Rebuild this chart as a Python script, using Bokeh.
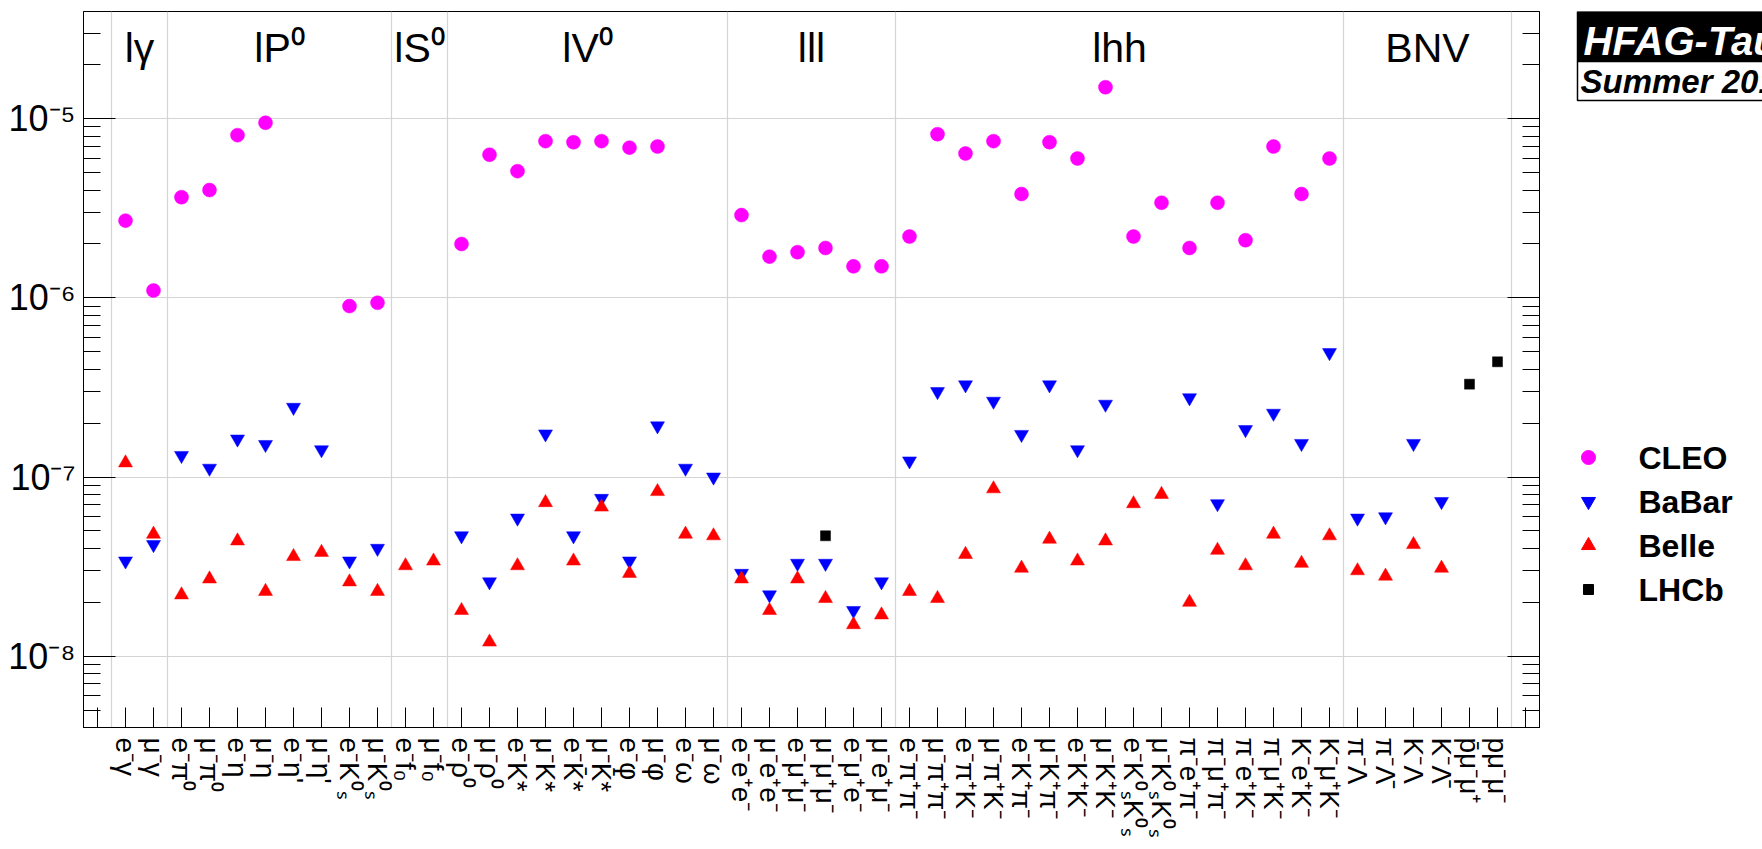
import math
from bokeh.plotting import figure
from bokeh.layouts import row
from bokeh.models import ColumnDataSource, FixedTicker, LogAxis, Range1d
from bokeh.core.properties import value
from bokeh.embed import file_html
from bokeh.resources import INLINE

NaN = float("nan")

# ---------------- data ----------------
group_names = ["lγ", "lP⁰", "lS⁰", "lV⁰", "lll", "lhh", "BNV"]
group_sizes = [2, 8, 2, 10, 6, 16, 6]

modes = [
    "e⁻γ", "μ⁻γ",
    "e⁻π⁰", "μ⁻π⁰", "e⁻η", "μ⁻η", "e⁻η'", "μ⁻η'", "e⁻K⁰ₛ", "μ⁻K⁰ₛ",
    "e⁻f₀", "μ⁻f₀",
    "e⁻ρ⁰", "μ⁻ρ⁰", "e⁻K*", "μ⁻K*", "e⁻K̄*", "μ⁻K̄*", "e⁻φ", "μ⁻φ", "e⁻ω", "μ⁻ω",
    "e⁻e⁺e⁻", "μ⁻e⁺e⁻", "e⁻μ⁺μ⁻", "μ⁻μ⁺μ⁻", "e⁻μ⁺e⁻", "μ⁻e⁺μ⁻",
    "e⁻π⁺π⁻", "μ⁻π⁺π⁻", "e⁻π⁺K⁻", "μ⁻π⁺K⁻", "e⁻K⁺π⁻", "μ⁻K⁺π⁻", "e⁻K⁺K⁻", "μ⁻K⁺K⁻",
    "e⁻K⁰ₛK⁰ₛ", "μ⁻K⁰ₛK⁰ₛ", "π⁻e⁺π⁻", "π⁻μ⁺π⁻", "π⁻e⁺K⁻", "π⁻μ⁺K⁻", "K⁻e⁺K⁻", "K⁻μ⁺K⁻",
    "π⁻Λ", "π⁻Λ̄", "K⁻Λ", "K⁻Λ̄", "p̄μ⁻μ⁺", "pμ⁻μ⁻",
]

cleo = [
    2.7e-6, 1.1e-6,
    3.65e-6, 4.0e-6, 8.1e-6, 9.5e-6, NaN, NaN, 9.0e-7, 9.4e-7,
    NaN, NaN,
    2.0e-6, 6.3e-6, 5.1e-6, 7.5e-6, 7.4e-6, 7.5e-6, 6.9e-6, 7.0e-6, NaN, NaN,
    2.9e-6, 1.7e-6, 1.8e-6, 1.9e-6, 1.5e-6, 1.5e-6,
    2.2e-6, 8.2e-6, 6.4e-6, 7.5e-6, 3.8e-6, 7.4e-6, 6.0e-6, 1.5e-5,
    2.2e-6, 3.4e-6, 1.9e-6, 3.4e-6, 2.1e-6, 7.0e-6, 3.8e-6, 6.0e-6,
    NaN, NaN, NaN, NaN, NaN, NaN,
]

babar = [
    3.4e-8, 4.2e-8,
    1.32e-7, 1.12e-7, 1.63e-7, 1.52e-7, 2.45e-7, 1.42e-7, 3.4e-8, 4.0e-8,
    NaN, NaN,
    4.7e-8, 2.6e-8, 5.9e-8, 1.74e-7, 4.7e-8, 7.6e-8, 3.4e-8, 1.93e-7, 1.12e-7, 1.0e-7,
    2.9e-8, 2.2e-8, 3.3e-8, 3.3e-8, 1.8e-8, 2.6e-8,
    1.23e-7, 3.0e-7, 3.27e-7, 2.65e-7, 1.73e-7, 3.27e-7, 1.42e-7, 2.55e-7,
    NaN, NaN, 2.77e-7, 7.1e-8, 1.84e-7, 2.27e-7, 1.54e-7, 4.95e-7,
    5.9e-8, 6.0e-8, 1.54e-7, 7.3e-8, NaN, NaN,
]

belle = [
    1.2e-7, 4.8e-8,
    2.2e-8, 2.7e-8, 4.4e-8, 2.3e-8, 3.6e-8, 3.8e-8, 2.6e-8, 2.3e-8,
    3.2e-8, 3.4e-8,
    1.8e-8, 1.2e-8, 3.2e-8, 7.2e-8, 3.4e-8, 6.8e-8, 2.9e-8, 8.3e-8, 4.8e-8, 4.7e-8,
    2.7e-8, 1.8e-8, 2.7e-8, 2.1e-8, 1.5e-8, 1.7e-8,
    2.3e-8, 2.1e-8, 3.7e-8, 8.6e-8, 3.1e-8, 4.5e-8, 3.4e-8, 4.4e-8,
    7.1e-8, 8.0e-8, 2.0e-8, 3.9e-8, 3.2e-8, 4.8e-8, 3.3e-8, 4.7e-8,
    3.0e-8, 2.8e-8, 4.2e-8, 3.1e-8, NaN, NaN,
]

lhcb = [NaN] * 50
lhcb[25] = 4.7e-8
lhcb[48] = 3.3e-7
lhcb[49] = 4.4e-7

y_tick_values = [1e-8, 1e-7, 1e-6, 1e-5]
y_tick_labels = ["10⁻⁸", "10⁻⁷", "10⁻⁶", "10⁻⁵"]
y_lo, y_hi = 4.0e-9, 3.97e-5

series_names = ["CLEO", "BaBar", "Belle", "LHCb"]
series_markers = ["circle", "inverted_triangle", "triangle", "square"]
series_colors = ["#ff00ff", "#0000ff", "#ff0000", "#000000"]
series_sizes = [14, 14, 14, 10]
series_values = [cleo, babar, belle, lhcb]

# ---------------- main figure ----------------
n = len(modes)
FONT = "Liberation Sans"
FRAME_W, FRAME_H = 1456, 716
B_LEFT, B_TOP, B_BOTTOM, B_RIGHT = 83, 11, 112, 8
DECADE_PX = 179.2

p = figure(frame_width=FRAME_W, frame_height=FRAME_H, title=None,
           x_range=Range1d(-0.5, n + 1.5), y_range=Range1d(y_lo, y_hi),
           y_axis_type="log", output_backend="svg", toolbar_location=None,
           min_border_left=B_LEFT, min_border_top=B_TOP, min_border_bottom=B_BOTTOM,
           min_border_right=B_RIGHT, background_fill_color="white",
           border_fill_color="white", align="start")
p.outline_line_color = "black"
p.outline_line_width = 1

# x axis
xt = list(range(0, n + 2))
xaxis = p.xaxis[0]
xaxis.ticker = FixedTicker(ticks=xt, minor_ticks=[])
overrides = {0: "", n + 1: ""}
for i, m in enumerate(modes):
    overrides[i + 1] = m
xaxis.major_label_overrides = overrides
xaxis.major_label_orientation = "vertical"
xaxis.major_label_text_font = FONT
xaxis.major_label_text_font_size = "28px"
xaxis.major_label_text_color = "black"
xaxis.major_label_standoff = 10
xaxis.major_tick_in = 20
xaxis.major_tick_out = 0
xaxis.axis_line_color = "black"
xaxis.major_tick_line_color = "black"

# separators between categories
bounds = [0.5]
cum = 0
centers = []
for s in group_sizes:
    centers.append(cum + (s + 1) / 2)
    cum += s
    bounds.append(cum + 0.5)
p.xgrid.ticker = FixedTicker(ticks=bounds, minor_ticks=[])
p.xgrid.grid_line_color = "#d4d4d4"
p.xgrid.grid_line_width = 1.2

# y axis
minors = []
for e in range(-9, -4):
    for mnt in range(2, 10):
        v = mnt * 10.0 ** e
        if y_lo <= v <= y_hi:
            minors.append(v)
yticker = FixedTicker(ticks=y_tick_values, minor_ticks=minors)
yaxis = p.yaxis[0]
yaxis.ticker = yticker
yaxis.major_label_overrides = dict(zip(y_tick_values, y_tick_labels))
yaxis.major_label_text_font = FONT
yaxis.major_label_text_font_size = "36px"
yaxis.major_label_text_color = "black"
yaxis.major_label_standoff = 8
yaxis.major_tick_in = 32
yaxis.major_tick_out = 0
yaxis.minor_tick_in = 17
yaxis.minor_tick_out = 0
yaxis.axis_line_color = "black"
p.ygrid.ticker = yticker
p.ygrid.grid_line_color = "#d4d4d4"
p.ygrid.grid_line_width = 1.2

ry = LogAxis(ticker=yticker, major_label_overrides={v: "" for v in y_tick_values},
             major_label_text_font_size="0px", major_label_standoff=0,
             major_tick_in=32, major_tick_out=0, minor_tick_in=17, minor_tick_out=0,
             axis_line_color="black")
p.add_layout(ry, "right")

# data markers
for name, mk, col, sz, vals in zip(series_names, series_markers, series_colors,
                                    series_sizes, series_values):
    xs = [i + 1 for i, v in enumerate(vals) if not math.isnan(v)]
    ys = [v for v in vals if not math.isnan(v)]
    src = ColumnDataSource(dict(x=xs, y=ys))
    p.scatter("x", "y", source=src, marker=mk, size=sz, fill_color=col,
              line_color=col, line_width=0.5)

# group titles (centre of the capitals ~37 px below the frame top)
title_y = y_hi / 10 ** (37.0 / DECADE_PX)
p.text(x=centers, y=[title_y] * len(centers), text=group_names,
       text_align="center", text_baseline="middle",
       text_font=value(FONT), text_font_size="41px", text_color="black")

# ---------------- side panel: legend + tag ----------------
X0 = B_LEFT + FRAME_W + B_RIGHT          # page x where the side panel starts
W2, H2 = 1762 - X0, 859
DY = 10                                   # vertical correction of the side panel
q = figure(frame_width=W2, frame_height=H2, title=None,
           x_range=Range1d(X0, X0 + W2), y_range=Range1d(H2 + DY, DY),
           output_backend="svg", toolbar_location=None, min_border=0,
           x_axis_location=None, y_axis_location=None, align="start")
q.grid.visible = False
q.outline_line_color = None

leg_y = [456 + 44 * k for k in range(len(series_names))]
for k, (name, mk, col, sz) in enumerate(zip(series_names, series_markers,
                                            series_colors, series_sizes)):
    q.scatter([1588], [leg_y[k]], marker=mk, size=sz, fill_color=col, line_color=col)
q.text(x=[1638] * 4, y=leg_y, text=series_names, text_align="left",
       text_baseline="middle", text_font=value(FONT), text_font_size="32px",
       text_font_style="bold", text_color="black")

q.quad(left=[1577], right=[1800], top=[10], bottom=[60],
       fill_color="black", line_color="black", line_width=1.5)
q.quad(left=[1577], right=[1800], top=[60], bottom=[99],
       fill_color="white", line_color="black", line_width=1.5)
q.text(x=[1583], y=[39], text=["HFAG-Tau"], text_align="left",
       text_baseline="middle", text_font=value(FONT), text_font_size="40px",
       text_font_style="bold italic", text_color="white")
q.text(x=[1580], y=[80], text=["Summer 2014"], text_align="left",
       text_baseline="middle", text_font=value(FONT), text_font_size="33px",
       text_font_style="bold italic", text_color="black")

layout = row(p, q, spacing=0)
open("out.html", "w").write(file_html(layout, INLINE))
